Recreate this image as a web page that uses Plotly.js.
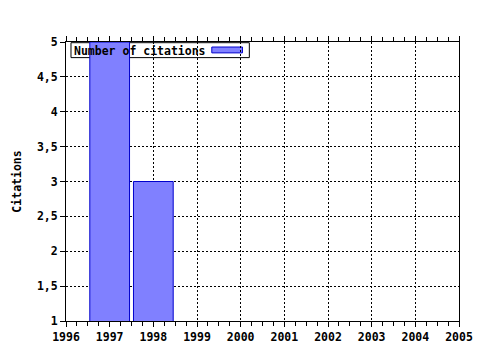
<!DOCTYPE html>
<html>
<head>
<meta charset="utf-8">
<script src="https://cdn.plot.ly/plotly-3.0.1.min.js"></script>
<style>html,body{margin:0;padding:0;background:#fff;}#chart{width:480px;height:350px;}</style>
</head>
<body>
<div id="chart"></div>
<script>
const years = [1997, 1998];
const citations = [5, 3];
const seriesName = "Number of citations";
const yTitle = "Citations";

const mono = "DejaVu Sans Mono, Liberation Mono, monospace";

const trace = {
  type: "bar",
  x: years,
  y: citations,
  base: 0,
  width: 0.91,
  name: seriesName,
  marker: {color: "#8080ff", line: {color: "#0000cc", width: 1}},
  showlegend: false,
  hoverinfo: "skip"
};

const layout = {
  width: 480, height: 350,
  margin: {l: 66, r: 21, t: 42, b: 29, pad: 0},
  paper_bgcolor: "#fff", plot_bgcolor: "#fff",
  separators: ", ",
  font: {family: mono, size: 11.5, color: "#000", weight: "bold"},
  xaxis: {
    range: [1996, 2005], dtick: 1, tick0: 1996,
    showgrid: true, gridcolor: "#000", griddash: "2px,2px", gridwidth: 1,
    showline: true, linecolor: "#000", linewidth: 1, mirror: "ticks",
    ticks: "outside", ticklen: 5, tickcolor: "#000",
    minor: {dtick: 0.25, ticks: "outside", ticklen: 4, tickcolor: "#000", showgrid: false},
    tickfont: {family: mono, size: 11.5, weight: "bold", color: "#000"},
    zeroline: false, fixedrange: true
  },
  yaxis: {
    range: [1, 5], dtick: 0.5, tick0: 1,
    showgrid: true, gridcolor: "#000", griddash: "2px,2px", gridwidth: 1,
    showline: true, linecolor: "#000", linewidth: 1, mirror: true,
    ticks: "outside", ticklen: 5, tickcolor: "#000",
    tickfont: {family: mono, size: 11.5, weight: "bold", color: "#000"},
    title: {text: yTitle, font: {family: mono, size: 11.5, weight: "bold", color: "#000"}, standoff: 12},
    zeroline: false, fixedrange: true
  },
  shapes: [
    {type: "rect", xref: "paper", yref: "paper", x0: 0.0127, x1: 0.4665, y0: 0.944, y1: 0.9975,
     fillcolor: "#fff", line: {color: "#000", width: 1}, layer: "between"},
    {type: "rect", xref: "paper", yref: "paper", x0: 0.371, x1: 0.449, y0: 0.961, y1: 0.982,
     fillcolor: "#8080ff", line: {color: "#0000cc", width: 1}, layer: "between"}
  ],
  annotations: [
    {xref: "paper", yref: "paper", x: 0.0153, y: 0.968, xanchor: "left", yanchor: "middle",
     text: seriesName, showarrow: false,
     font: {family: mono, size: 11.5, weight: "bold", color: "#000"}}
  ]
};

Plotly.newPlot("chart", [trace], layout, {displayModeBar: false, staticPlot: true});
</script>
</body>
</html>
